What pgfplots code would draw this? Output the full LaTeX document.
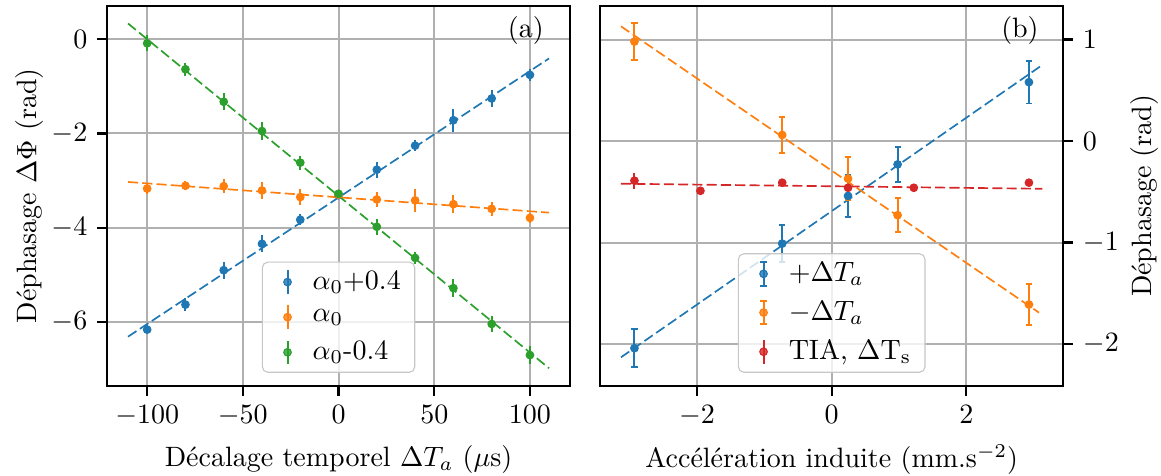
\documentclass[border=0pt]{standalone}
\usepackage{pgfplots}
\pgfplotsset{compat=1.18}
\definecolor{tabblue}{HTML}{1F77B4}
\definecolor{taborange}{HTML}{FF7F0E}
\definecolor{tabgreen}{HTML}{2CA02C}
\definecolor{tabred}{HTML}{D62728}
\definecolor{gridgray}{HTML}{B0B0B0}
\pgfplotsset{
  mpl/.style={
    scale only axis, width=165.4pt, height=135.6pt,
    axis line style={black, line width=0.8pt},
    grid=major, major grid style={gridgray, line width=0.7pt},
    tick align=outside, major tick length=3.5pt,
    tick style={black, line width=0.8pt},
    legend cell align=left,
    legend style={draw=black!22, rounded corners=2pt, fill=white, fill opacity=0.8, text opacity=1,
      at={(0.5,0.034)}, anchor=south, row sep=1.5pt, inner xsep=3pt, inner ysep=1pt},
  },
  ebar/.style={only marks, mark=*, mark size=1.35pt, color=#1, mark options={solid, fill=#1, draw=#1},
    error bars/.cd, y dir=both, y explicit, error mark=none,
    error bar style={line width=0.7pt, solid, #1}, /pgfplots/.cd},
  ebarcap/.style={only marks, mark=*, mark size=1.35pt, color=#1, mark options={solid, fill=#1, draw=#1},
    error bars/.cd, y dir=both, y explicit, error mark=-,
    error bar style={line width=0.7pt, solid, #1},
    error mark options={rotate=90, solid, #1, line width=0.7pt, mark size=1.1pt}, /pgfplots/.cd},
  fitline/.style={forget plot, color=#1, line width=0.6pt, dash pattern=on 3.6pt off 1.5pt},
  limg/.style={legend image code/.code={
      \path[draw=none, fill=none] (0pt,0pt) -- (13pt,0pt);
      \draw[solid, line width=0.7pt] (6pt,-4.2pt) -- (6pt,4.2pt);
      \fill (6pt,0pt) circle (1.35pt);}},
  limgcap/.style={legend image code/.code={
      \path[draw=none, fill=none] (0pt,0pt) -- (13pt,0pt);
      \draw[solid, line width=0.7pt] (6pt,-4.2pt) -- (6pt,4.2pt);
      \draw[solid, line width=0.7pt] (4.9pt,-4.2pt) -- (7.1pt,-4.2pt);
      \draw[solid, line width=0.7pt] (4.9pt,4.2pt) -- (7.1pt,4.2pt);
      \fill (6pt,0pt) circle (1.35pt);}},
}
\begin{document}
\begin{tikzpicture}
\useasboundingbox (-38.2pt,-31.9pt) rectangle (376.4pt,137.75pt);
% ---------------- panel (a)
\begin{axis}[mpl, at={(0pt,0pt)}, anchor=south west,
  xmin=-121, xmax=121, ymin=-7.35, ymax=0.70,
  xtick={-100,-50,0,50,100}, ytick={-6,-4,-2,0},
  xtick pos=bottom, ytick pos=left,
  xlabel={Décalage temporel $\Delta T_a$ ($\mu$s)},
  ylabel={Déphasage $\Delta\Phi$ (rad)}, ylabel shift=-4pt,
]
\addplot+[limg, ebar=tabblue] table[x=x, y=y, y error=e] {
x y e
-100 -6.16 0.10
-80 -5.63 0.13
-60 -4.90 0.18
-40 -4.34 0.18
-20 -3.83 0.12
0 -3.31 0.08
20 -2.77 0.17
40 -2.26 0.12
60 -1.72 0.24
80 -1.26 0.17
100 -0.76 0.12
};
\addlegendentry{$\alpha_0$+0.4}
\addplot+[limg, ebar=taborange] table[x=x, y=y, y error=e] {
x y e
-100 -3.17 0.11
-80 -3.11 0.10
-60 -3.12 0.15
-40 -3.21 0.18
-20 -3.35 0.17
0 -3.30 0.08
20 -3.40 0.15
40 -3.42 0.24
60 -3.50 0.19
80 -3.60 0.15
100 -3.79 0.10
};
\addlegendentry{$\alpha_0$}
\addplot+[limg, ebar=tabgreen] table[x=x, y=y, y error=e] {
x y e
-100 -0.09 0.17
-80 -0.64 0.14
-60 -1.33 0.18
-40 -1.95 0.20
-20 -2.62 0.15
0 -3.28 0.08
20 -3.98 0.17
40 -4.64 0.12
60 -5.28 0.19
80 -6.04 0.17
100 -6.70 0.19
};
\addlegendentry{$\alpha_0$-0.4}
\addplot[fitline=tabblue] coordinates {(-110,-6.31) (110,-0.41)};
\addplot[fitline=taborange] coordinates {(-110,-3.03) (110,-3.68)};
\addplot[fitline=tabgreen] coordinates {(-110,0.33) (110,-6.98)};
\node[anchor=north east, inner sep=0pt] at (rel axis cs:0.944,0.975) {(a)};
\end{axis}
% ---------------- panel (b)
\begin{axis}[mpl, at={(176.1pt,0pt)}, anchor=south west,
  xmin=-3.44, xmax=3.44, ymin=-2.41, ymax=1.33,
  xtick={-2,0,2}, ytick={-2,-1,0,1},
  xtick pos=bottom, ytick pos=right, yticklabel pos=right, ylabel near ticks,
  xlabel={Accélération induite (mm.s$^{-2}$)},
  ylabel={Déphasage (rad)}, ylabel shift=-2.5pt,
]
\addplot+[limgcap, ebarcap=tabblue] table[x=x, y=y, y error=e] {
x y e
-2.93 -2.04 0.19
-0.735 -1.01 0.18
0.243 -0.54 0.21
0.979 -0.23 0.17
2.93 0.58 0.21
};
\addlegendentry{$+\Delta T_a$}
\addplot[fitline=tabblue] coordinates {(-3.13,-2.13) (3.13,0.75)};
\addplot+[limgcap, ebarcap=taborange] table[x=x, y=y, y error=e] {
x y e
-2.93 0.98 0.18
-0.735 0.06 0.18
0.243 -0.37 0.21
0.979 -0.73 0.17
2.93 -1.61 0.20
};
\addlegendentry{$-\Delta T_a$}
\addplot[fitline=taborange] coordinates {(-3.13,1.13) (3.08,-1.69)};
\addplot+[limg, ebar=tabred] table[x=x, y=y, y error=e] {
x y e
-2.93 -0.39 0.08
-1.95 -0.49 0.02
-0.735 -0.41 0.02
0.243 -0.46 0.02
1.22 -0.46 0.02
2.93 -0.41 0.02
};
\addlegendentry{TIA, $\Delta\mathrm{T_s}$}
\addplot[fitline=tabred] coordinates {(-3.13,-0.42) (3.13,-0.47)};
\node[anchor=north east, inner sep=0pt] at (rel axis cs:0.948,0.975) {(b)};
\end{axis}
\end{tikzpicture}
\end{document}
